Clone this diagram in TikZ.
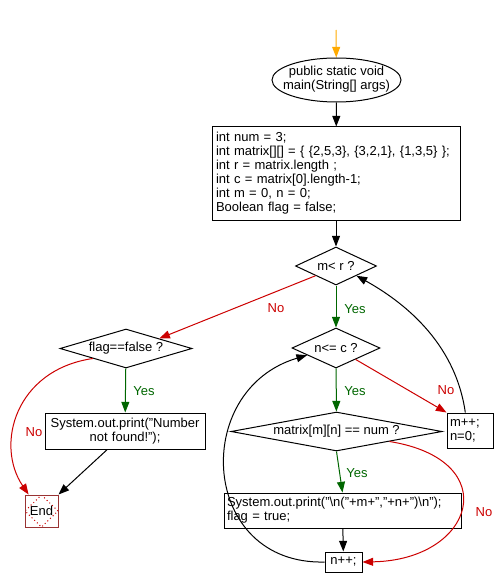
\documentclass[tikz,border=0pt]{standalone}
\usepackage{fontspec}
\setmainfont{Liberation Sans}
\usetikzlibrary{shapes.geometric,arrows.meta,calc}
\definecolor{noRed}{RGB}{204,0,0}
\definecolor{yesGreen}{RGB}{0,102,0}
\definecolor{startOrange}{RGB}{255,170,0}
\definecolor{endBrown}{RGB}{153,51,51}
\begin{document}
\begin{tikzpicture}[x=0.75pt,y=-0.75pt,line width=0.75pt,
  font=\fontsize{9.75}{10.5}\selectfont,
  flow/.style={draw=black,-{Triangle[length=8pt,width=6pt]}},
  yesflow/.style={flow,draw=yesGreen},
  noflow/.style={flow,draw=noRed},
  startflow/.style={flow,draw=startOrange},
  yeslbl/.style={text=yesGreen,inner sep=0pt},
  nolbl/.style={text=noRed,inner sep=0pt},
  procbox/.style={draw,rectangle,inner ysep=0pt},
  decision/.style={draw,diamond,inner sep=0pt},
  terminal/.style={draw,ellipse,inner sep=0pt}]
\useasboundingbox (0,0) rectangle (501,588);

\node[terminal,minimum width=96.75pt,minimum height=33pt] (start) at (336.5,80)
  {\makebox[0pt]{\begin{tabular}{@{}c@{}}public static void\\main(String[] args)\end{tabular}}};
\coordinate (s0) at (336,30);

\node[procbox,text width=180pt,inner xsep=3pt,minimum height=69.75pt,align=left] (init) at (336,173.5)
  {int num = 3;\\
   int matrix[][] = \{ \{2,5,3\}, \{3,2,1\}, \{1,3,5\} \};\\
   int r = matrix.length ;\\
   int c = matrix[0].length-1;\\
   int m = 0, n = 0;\\
   Boolean flag = false;};

\node[decision,minimum width=60.75pt,minimum height=28.5pt,shape aspect=2.13] (d1) at (336,266) {m< r ?};
\node[decision,minimum width=66pt,minimum height=30pt,shape aspect=2.2] (d2) at (336,348) {n<= c ?};
\node[decision,minimum width=158.25pt,minimum height=29.25pt,shape aspect=5.4] (d3) at (336.5,431.5) {matrix[m][n] == num ?};
\node[decision,minimum width=99pt,minimum height=29.25pt,shape aspect=3.4] (d4) at (126,348.5) {flag==false ?};

\node[procbox,text width=173.25pt,inner xsep=2.25pt,minimum height=26.25pt,align=left] (b1) at (342.5,510.5)
  {System.out.print("\textbackslash n("+m+","+n+")\textbackslash n");\\flag = true;};
\node[procbox,minimum width=27.75pt,minimum height=15pt,inner xsep=0pt] (npp) at (343.5,562) {n++;};
\node[procbox,text width=30pt,inner xsep=2.25pt,minimum height=26.25pt,align=left] (mpp) at (470,430.5) {m++;\\n=0;};
\node[procbox,text width=118pt,inner xsep=1pt,minimum height=27pt,align=center] (b2) at (125,431)
  {System.out.print("Number\\not found!");};
\node[draw=endBrown,rectangle,minimum width=24.75pt,minimum height=24pt,inner sep=0pt,
  path picture={\draw[noRed,dotted] (path picture bounding box.north) -- (path picture bounding box.east)
    -- (path picture bounding box.south) -- (path picture bounding box.west) -- cycle;}] (end) at (41.5,511) {End};

\draw[startflow] (s0) -- (start);
\draw[flow] (start) -- (init);
\draw[flow] (init) -- (d1);
\draw[yesflow] (d1) -- (d2) node[yeslbl] at (355,309) {Yes};
\draw[yesflow] (d2) -- (d3) node[yeslbl] at (355,391) {Yes};
\draw[yesflow] (d3.south) -- (b1.north) node[yeslbl] at (357,473) {Yes};
\draw[flow] (b1) -- (npp);
\draw[noflow] (d2) -- (mpp.north west) node[nolbl] at (446,390) {No};
\draw[noflow] (d3.south east) .. controls (505,460) and (475,560) .. (npp.east) node[nolbl] at (484,512) {No};
\draw[flow] (npp.west) .. controls (200,565) and (190,390) .. ($(d2.west)!0.35!(d2.south)$);
\draw[flow] ($(mpp.north west)!0.4!(mpp.north east)$) .. controls (455,340) and (400,300) .. (d1.south east);
\draw[noflow] (d1.south west) -- (d4.north east) node[nolbl] at (276,308) {No};
\draw[yesflow] (d4) -- (b2) node[yeslbl] at (144,391) {Yes};
\draw[flow] ($(b2.south west)!0.39!(b2.south east)$) -- (end.north east);
\draw[noflow] (d4.south west) .. controls (15,370) and (-5,445) .. ($(end.north west)!0.12!(end.north east)$) node[nolbl] at (34,432) {No};
\end{tikzpicture}
\end{document}
